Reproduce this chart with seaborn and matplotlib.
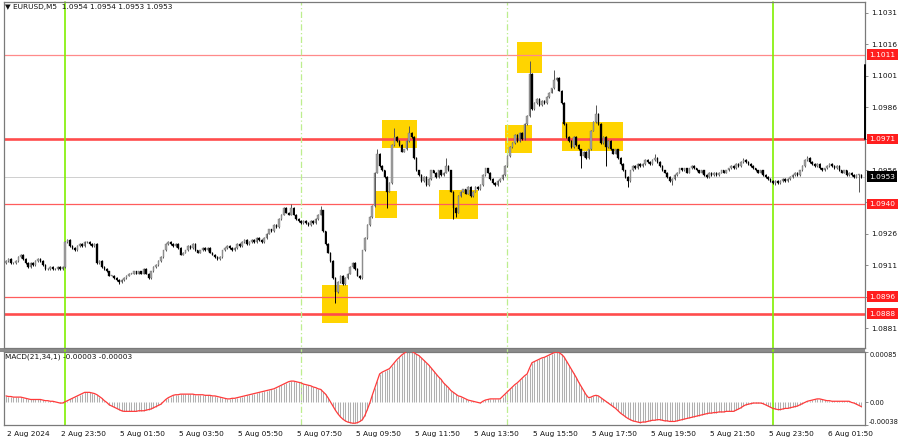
import numpy as np
import pandas as pd
import matplotlib
matplotlib.use("Agg")
import matplotlib.pyplot as plt
import seaborn as sns
from matplotlib.patches import Rectangle
import matplotlib.transforms as mtransforms

# ---------------- DATA ----------------
symbol_title = "\u25BC EURUSD,M5  1.0954 1.0954 1.0953 1.0953"
macd_title = "MACD(21,34,1) -0.00003 -0.00003"

first_open = 1.0912
closes = [
    # 2 Aug 22:00 - 23:55
    1.0913, 1.0914, 1.0912, 1.0912, 1.0913, 1.0915, 1.0916, 1.0914, 1.0912, 1.0910, 1.0912, 1.0911,
    1.0913, 1.0914, 1.0913, 1.0911, 1.0909, 1.0909, 1.0910, 1.0909, 1.0909, 1.0910, 1.0909, 1.0910,
    # 5 Aug 00:00 ->
    1.0922, 1.0923, 1.0920, 1.0919, 1.0918, 1.0920, 1.0921, 1.0920, 1.0922, 1.0922, 1.0921, 1.0920, 1.0921,
    1.0912, 1.0913, 1.0910, 1.0909, 1.0908, 1.0906, 1.0906, 1.0905, 1.0904, 1.0903, 1.0904, 1.0905,
    1.0906, 1.0907, 1.0907, 1.0908, 1.0907, 1.0908, 1.0907, 1.0909, 1.0907, 1.0905,
    1.0908, 1.0910, 1.0911, 1.0913, 1.0915, 1.0918, 1.0921, 1.0922, 1.0921,
    1.0920, 1.0921, 1.0919, 1.0916, 1.0917, 1.0918, 1.0920, 1.0919, 1.0921, 1.0918, 1.0917, 1.0918,
    1.0919, 1.0918, 1.0919, 1.0917, 1.0916, 1.0915, 1.0914, 1.0915,
    1.0918, 1.0919, 1.0920, 1.0919, 1.0918, 1.0919, 1.0921, 1.0920,
    1.0922, 1.0923, 1.0921, 1.0922, 1.0923, 1.0922, 1.0924, 1.0923, 1.0922, 1.0924,
    1.0926, 1.0928, 1.0927, 1.0930, 1.0929, 1.0933, 1.0935, 1.0938,
    1.0936, 1.0935, 1.0938, 1.0935,
    1.0933, 1.0932, 1.0931, 1.0932, 1.0931, 1.0930, 1.0932, 1.0931,
    1.0933, 1.0935, 1.0937,
    1.0927,
    1.0921, 1.0917, 1.0913, 1.0905,
    1.0898,
    1.0903, 1.0906, 1.0902, 1.0905, 1.0907,
    1.0910, 1.0912,
    1.0909, 1.0906, 1.0905,
    1.0918, 1.0924, 1.0930, 1.0934, 1.0939,
    1.0955, 1.0964, 1.0958, 1.0956,
    1.0953, 1.0946, 1.0950,
    1.0968,
    1.0972, 1.0970, 1.0968,
    1.0965, 1.0966,
    1.0970, 1.0974, 1.0972,
    1.0962,
    1.0956, 1.0954,
    1.0951, 1.0953, 1.0949, 1.0952,
    1.0956, 1.0955,
    1.0953, 1.0956, 1.0954,
    1.0955, 1.0958, 1.0956,
    1.0946, 1.0938, 1.0936,
    1.0944, 1.0946, 1.0947,
    1.0945, 1.0948, 1.0944, 1.0946,
    1.0948, 1.0947, 1.0949,
    1.0954, 1.0957, 1.0955,
    1.0952, 1.0950, 1.0949, 1.0951,
    1.0952, 1.0954,
    1.0958, 1.0963,
    1.0967, 1.0969,
    1.0973, 1.0970, 1.0974, 1.0971,
    1.0978, 1.0982,
    1.1002,
    1.0985,
    1.0988, 1.0990, 1.0987, 1.0989, 1.0988,
    1.0991, 1.0993, 1.0995,
    1.0999,
    1.1000, 1.0994,
    1.0988, 1.0978,
    1.0972, 1.0970, 1.0967,
    1.0972, 1.0968,
    1.0966, 1.0963, 1.0965, 1.0962, 1.0966,
    1.0975,
    1.0979, 1.0983, 1.0978,
    1.0969, 1.0972, 1.0967, 1.0970, 1.0966,
    1.0964, 1.0966, 1.0962,
    1.0959, 1.0956, 1.0953, 1.0951,
    1.0956, 1.0958, 1.0957, 1.0959, 1.0958,
    1.0959, 1.0961, 1.0960, 1.0959, 1.0961, 1.0962, 1.0960,
    1.0958, 1.0956, 1.0955, 1.0953, 1.0951,
    1.0952,
    1.0954, 1.0955, 1.0957, 1.0956, 1.0957, 1.0955, 1.0957, 1.0958, 1.0957, 1.0956,
    1.0955, 1.0956, 1.0954, 1.0953, 1.0955,
    1.0954, 1.0955, 1.0954, 1.0955, 1.0956, 1.0955, 1.0956,
    1.0957, 1.0958, 1.0957, 1.0959, 1.0958,
    1.0960, 1.0961, 1.0960, 1.0959,
    1.0958, 1.0957, 1.0956, 1.0955, 1.0956, 1.0954, 1.0953, 1.0952, 1.0951,
    # 6 Aug 00:00 ->
    1.0950, 1.0951, 1.0950,
    1.0951, 1.0952, 1.0951, 1.0952, 1.0953,
    1.0954, 1.0955, 1.0954, 1.0956, 1.0958,
    1.0961, 1.0962, 1.0960,
    1.0959, 1.0958, 1.0959, 1.0957, 1.0956, 1.0957, 1.0958,
    1.0959, 1.0958, 1.0957, 1.0958,
    1.0956, 1.0955, 1.0956, 1.0954, 1.0955,
    1.0954, 1.0953, 1.0954, 1.0954, 1.0953,
]
# notable wick extremes (bar index -> price)
wick_highs = {116: 1.0940, 128: 1.0939, 151: 1.0966, 158: 1.0976, 164: 1.0977, 179: 1.0962,
              213: 1.1008, 223: 1.1004, 240: 1.0987, 264: 1.0964, 300: 1.0962, 326: 1.0963}
wick_lows = {46: 1.0902, 134: 1.0893, 155: 1.0938, 182: 1.0933, 183: 1.0934, 234: 1.0957,
             244: 1.0958, 253: 1.0948, 271: 1.0949, 313: 1.0949, 347: 1.0946}
base_wick = 0.00004

# MACD(21,34,1) main line per bar, in units of 1e-5
macd_e5 = [
    11, 10, 10,
    9, 9, 9, 9, 8, 7, 6,
    5, 5, 5, 5, 5, 4,
    3, 3, 2, 2, 1, 0, -1, -1,
    1, 3, 5, 7, 9,
    11, 13, 15, 17,
    17, 17, 16, 15,
    13, 10, 7, 3, 0, -4,
    -6, -8, -10, -12, -14, -15,
    -15, -15, -15, -15, -15, -14, -14, -14,
    -13, -12, -11, -9, -7, -5, -3,
    1, 5, 8, 10, 12, 13, 13,
    14, 14, 14, 14, 14, 14, 13, 13, 13,
    13, 12, 12, 12, 11, 11, 10, 9, 8, 7,
    6, 6, 7, 7, 8, 9, 10, 11, 12,
    13, 14, 15, 16, 17, 18, 19,
    20, 21, 22, 23, 25,
    27, 29, 31, 33, 35, 36,
    36, 35, 34, 33, 31,
    30, 29, 28, 26, 25, 23, 22,
    18, 14, 8, 1, -6, -13,
    -19, -24, -28, -31, -33,
    -34, -35, -35, -34, -32, -29,
    -22, -12, -1,
    12, 24, 36, 48,
    51, 53, 55, 57,
    62, 67, 72, 76,
    80, 83, 86, 88,
    86, 84, 81, 79,
    75, 71, 67, 63,
    58, 53, 48, 43, 39,
    33, 29, 25, 20,
    17, 14, 11, 10,
    8, 6, 4, 3,
    2, 1, 0, -1,
    2, 4, 5,
    6, 6, 6, 6, 6,
    10, 14, 18,
    22, 26, 30, 33,
    37, 41, 45, 48,
    58, 67,
    69, 71, 73, 75, 76,
    78, 80, 82, 84, 85,
    84, 81, 77,
    70, 63, 56, 49, 42,
    34, 27, 20, 13, 8,
    9, 11, 12, 11,
    8, 5, 2,
    -1, -4, -7, -10,
    -14, -18, -21, -24, -27, -29,
    -31, -32, -33, -34,
    -33, -33, -32, -31, -30, -30, -29,
    -29, -30, -31, -31, -32, -32, -32,
    -31, -30, -29, -28, -27, -26, -25,
    -24, -23, -22, -21, -20, -19, -18, -18,
    -17, -17, -16, -16, -16, -15, -15, -15, -15,
    -13, -11, -9, -6, -4,
    -3, -2, -1, -1, -1, -1,
    -2, -4, -6, -8, -10, -11, -12, -12,
    -11, -10, -10, -9, -8, -7, -6,
    -4, -2, 0, 2, 3,
    4, 5, 6, 6,
    5, 4, 3, 3, 2, 2,
    2, 2, 2, 2, 2, 2,
    0, -1, -3, -5, -7,
]

# time axis labels (bar index, text)
time_ticks = [0, 22, 46, 70, 94, 118, 142, 166, 190, 214, 238, 262, 286, 310, 334]
time_labels = ["2 Aug 2024", "2 Aug 23:50", "5 Aug 01:50", "5 Aug 03:50", "5 Aug 05:50",
               "5 Aug 07:50", "5 Aug 09:50", "5 Aug 11:50", "5 Aug 13:50", "5 Aug 15:50",
               "5 Aug 17:50", "5 Aug 19:50", "5 Aug 21:50", "5 Aug 23:50", "6 Aug 01:50"]
day_separators = [24, 312]
session_markers = [120, 204]

price_ticks = [1.1031, 1.1016, 1.1001, 1.0986, 1.0971, 1.0956, 1.0941, 1.0926, 1.0911, 1.0896, 1.0881]
hidden_tick_labels = [1.0971, 1.0941, 1.0896]   # covered by the level boxes
thin_levels = [1.1011, 1.0940, 1.0896]
thick_levels = [1.0971, 1.0888]
current_price = 1.0953
bid_segment = [1.1006, 1.0971]

# highlighted zones: (bar start, bar end, price low, price high)
zones = [
    (128.6, 139.1, 1.08835, 1.09016),
    (150.1, 159.1, 1.09334, 1.09463),
    (152.9, 167.2, 1.09668, 1.09800),
    (176.2, 192.0, 1.09327, 1.09469),
    (203.0, 214.0, 1.09643, 1.09776),
    (207.9, 218.0, 1.10024, 1.10171),
    (226.2, 251.0, 1.09651, 1.09789),
]

macd_ticks = [-0.00038, 0.0, 0.00085]
macd_tick_labels = ["-0.00038", "0.00", "0.00085"]

# ---------------- FIGURE ----------------
sns.set_style("white")
plt.rcParams['font.family'] = ['DejaVu Sans']

W, H = 900, 441
fig = plt.figure(figsize=(9, 4.41), dpi=100)
fig.patch.set_facecolor("white")

def fx(px):
    return px / W

def fy(py):
    return 1 - py / H

L, R = 4, 865
ax = fig.add_axes([fx(L), fy(348), fx(R) - fx(L), fy(2) - fy(348)])
axm = fig.add_axes([fx(L), fy(425), fx(R) - fx(L), fy(352) - fy(425)])

n = len(closes)
x = np.arange(n)
c = np.array(closes)
o = np.concatenate([[first_open], c[:-1]])
hi = np.maximum(o, c) + base_wick
lo = np.minimum(o, c) - base_wick
for k, v in wick_highs.items():
    if k < n:
        hi[k] = v
for k, v in wick_lows.items():
    if k < n:
        lo[k] = v

xl = ((L - 6) / 2.458, (R - 6) / 2.458)
for a in (ax, axm):
    a.set_xlim(*xl)
    a.set_facecolor("white")
    for s in a.spines.values():
        s.set_color("#7a7a7a")
        s.set_linewidth(0.9)

ax.set_ylim(1.08716, 1.10361)

# zones
for (x0, x1, y0, y1) in zones:
    ax.add_patch(Rectangle((x0, y0), x1 - x0, y1 - y0, facecolor="#FFD400", edgecolor="none", zorder=1))

# levels
ax.axhline(current_price, color="#c8c8c8", lw=0.6, zorder=1.5)
for lv in thin_levels:
    col = "#ff8a8a" if lv == 1.1011 else "#ff5c5c"
    ax.axhline(lv, color=col, lw=0.9, zorder=2)
for lv in thick_levels:
    ax.axhline(lv, color="#ff4c4c", lw=1.9, zorder=2)

# vertical markers
for d in day_separators:
    ax.axvline(d, ymin=-0.02, ymax=1, color="#80f000", lw=1.2, zorder=2.5, clip_on=False)
    axm.axvline(d, color="#80f000", lw=1.2, zorder=2.5)
for d in session_markers:
    ax.axvline(d, ymin=-0.02, ymax=1, color="#bdee8e", lw=0.9, ls=(0, (5, 2, 1, 2)), zorder=2.5, clip_on=False)
    axm.axvline(d, color="#bdee8e", lw=0.9, ls=(0, (5, 2, 1, 2)), zorder=2.5)

# candles
bull = c >= o
wick_col = np.where(bull, "#555555", "#000000")
ax.vlines(x, lo, hi, colors=wick_col, lw=0.7, zorder=3)
body_h = np.maximum(np.abs(c - o), 0.000018)
body_b = np.minimum(o, c)
ax.bar(x[bull], body_h[bull], bottom=body_b[bull], width=0.62, color="#a2a2a2",
       edgecolor="#666666", linewidth=0.25, zorder=4)
ax.bar(x[~bull], body_h[~bull], bottom=body_b[~bull], width=0.62, color="#000000",
       edgecolor="#000000", linewidth=0.25, zorder=4)

# bid segment on right border
ax.plot([xl[1], xl[1]], bid_segment, color="black", lw=1.4, clip_on=False, zorder=6)

# price axis
ax.yaxis.tick_right()
ax.set_yticks(price_ticks)
ax.set_yticklabels(["" if t in hidden_tick_labels else f"{t:.4f}" for t in price_ticks])
ax.tick_params(axis="y", labelsize=5.3, length=2.5, width=0.6, pad=2, colors="#7a7a7a", labelcolor="#111111")
ax.set_xticks([])

ytr = ax.get_yaxis_transform()
box_x = 1.0 + 4.2 / (R - L)
for lv in thin_levels + thick_levels:
    ax.text(box_x, lv, f"{lv:.4f}", transform=ytr, ha="left", va="center", fontsize=5.3, color="white",
            bbox=dict(boxstyle="square,pad=0.32", fc="#ff1e1e", ec="none"), zorder=10, clip_on=False)
ax.text(box_x, current_price, f"{current_price:.4f}", transform=ytr, ha="left", va="center", fontsize=5.3,
        color="white", bbox=dict(boxstyle="square,pad=0.32", fc="#000000", ec="none"), zorder=10, clip_on=False)

ax.text(0.0015, 1 - 5 / 346, symbol_title, transform=ax.transAxes, ha="left", va="center",
        fontsize=5.3, color="#111111", zorder=10)

# ---------------- MACD ----------------
m = min(n, len(macd_e5))
df = pd.DataFrame({"bar": x[:m], "macd": np.array(macd_e5[:m]) * 1e-5})

axm.vlines(df["bar"], 0, df["macd"], colors="#b0b0b0", lw=0.75, zorder=2)
sns.lineplot(data=df, x="bar", y="macd", ax=axm, color="#ff3a3a", lw=0.9, zorder=3)
axm.set_ylim(macd_ticks[0], macd_ticks[-1])
axm.set_xlabel("")
axm.set_ylabel("")
axm.yaxis.tick_right()
axm.set_yticks(macd_ticks)
axm.set_yticklabels(macd_tick_labels)
axm.tick_params(axis="y", labelsize=4.8, length=2, width=0.6, pad=1, colors="#7a7a7a", labelcolor="#111111")
ylabs = axm.get_yticklabels()
ylabs[0].set_va("bottom")
ylabs[2].set_va("top")
axm.set_xticks(time_ticks)
axm.set_xticklabels(time_labels)
axm.tick_params(axis="x", labelsize=5.3, length=3, width=0.6, pad=1.5, colors="#7a7a7a", labelcolor="#111111")
for lbl in axm.get_xticklabels():
    lbl.set_ha("left")
    lbl.set_transform(lbl.get_transform() + mtransforms.ScaledTranslation(1 / 100, 0, fig.dpi_scale_trans))
axm.text(0.0015, 1 - 5 / 73, macd_title, transform=axm.transAxes, ha="left", va="center",
         fontsize=5.3, color="#111111", zorder=10)

# separator band between panels
fig.add_artist(Rectangle((fx(0), fy(351.7)), fx(R) - fx(0), fy(348.3) - fy(351.7),
                         transform=fig.transFigure, facecolor="#8c8c8c", edgecolor="none", zorder=-1))

fig.savefig("out.png", dpi=100, facecolor="white")
